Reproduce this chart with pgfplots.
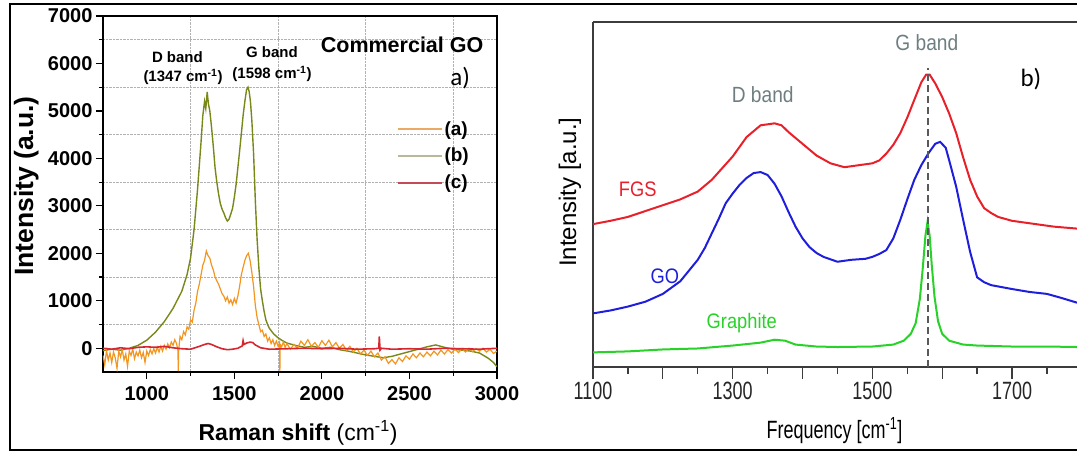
\documentclass[border=0pt]{standalone}
\usepackage{fontspec}
\setmainfont{Liberation Sans}
\newfontfamily\calfont{Carlito}
\newfontfamily\cond[FakeStretch=0.72]{Liberation Sans}
\newfontfamily\condb[FakeStretch=0.87]{Liberation Sans}
\usepackage{pgfplots}
\pgfplotsset{compat=1.18}
\definecolor{cA}{RGB}{242,150,32}
\definecolor{cB}{RGB}{122,136,26}
\definecolor{cC}{RGB}{214,38,48}
\definecolor{lA}{RGB}{234,170,100}
\definecolor{lB}{RGB}{186,184,154}
\definecolor{lC}{RGB}{196,74,90}
\definecolor{fgs}{RGB}{232,32,42}
\definecolor{go}{RGB}{30,30,220}
\definecolor{gr}{RGB}{40,210,40}
\definecolor{bandgray}{RGB}{110,126,128}
\definecolor{axgray}{RGB}{60,60,60}
\begin{document}
\begin{tikzpicture}[x=1pt,y=1pt]
\useasboundingbox (0,0) rectangle (1077,452);
\draw[line width=1.5pt] (1077,448) -- (10,448) -- (10,2) -- (1077,2);
% ---------------- left panel
\begin{axis}[
  at={(103pt,80pt)}, anchor=south west, scale only axis,
  width=394pt, height=356pt,
  xmin=750, xmax=3000, ymin=-500, ymax=7000,
  xtick={1000,1500,...,3000}, ytick={0,1000,...,7000},
  minor xtick={1250,1750,2250,2750}, minor ytick={500,1500,...,6500},
  grid=minor, minor grid style={densely dotted, black!30, line width=0.8pt},
  tick align=outside, major tick length=7pt, minor tick length=4pt,
  xtick pos=left, ytick pos=left,
  every tick/.style={black, line width=1.2pt},
  axis line style={line width=1.5pt},
  scaled ticks=false,
  /pgf/number format/1000 sep={},
  /pgf/number format/assume math mode=true,
  tick label style={font=\fontsize{20}{20}\selectfont\bfseries},
  xticklabel style={yshift=-4pt},
  xlabel={\textbf{Raman shift} (cm\textsuperscript{-1})},
  ylabel={\textbf{Intensity (a.u.)}},
  xlabel style={font=\fontsize{23}{23}\selectfont, at={(axis description cs:0.495,-0.171)}, anchor=center},
  ylabel style={font=\fontsize{26.5}{26.5}\selectfont, at={(axis description cs:-0.195,0.522)}, anchor=center, rotate=0},
  legend style={at={(axis description cs:0.745,0.71)}, anchor=north west, draw=none, fill=none,
     font=\fontsize{19}{19}\selectfont\bfseries, row sep=7.5pt, inner sep=0pt,
     nodes={inner sep=2pt}},
  legend cell align=left,
  legend image code/.code={\draw[#1, line width=1.8pt] (0pt,0pt) -- (44pt,0pt);},
]
\addlegendimage{lA}
\addlegendentry{(a)}
\addlegendimage{lB}
\addlegendentry{(b)}
\addlegendimage{lC}
\addlegendentry{(c)}
\addplot[cB, line width=1.4pt, forget plot] coordinates {
(750,-50)(800,-20)(850,-40)(900,0)(950,60)(1000,170)(1050,340)(1100,560)(1150,840)(1200,1200)
(1230,1550)(1250,1900)(1270,2500)(1290,3350)(1310,4350)(1320,4900)(1330,5200)(1337,5050)(1345,5400)
(1352,5150)(1360,5000)(1370,4650)(1380,4250)(1390,3800)(1400,3500)(1410,3250)(1420,3050)(1430,2930)
(1440,2850)(1450,2750)(1460,2680)(1470,2720)(1480,2830)(1490,2950)(1500,3180)(1510,3450)(1520,3800)
(1530,4150)(1540,4520)(1550,4900)(1560,5200)(1570,5450)(1578,5500)(1585,5400)(1592,5200)(1600,4800)
(1610,4100)(1620,3100)(1630,2300)(1640,1700)(1650,1250)(1660,1000)(1670,780)(1680,600)(1690,500)
(1700,420)(1725,300)(1750,220)(1775,160)(1800,110)(1850,60)(1900,20)(1950,40)(2000,0)(2050,20)
(2100,-30)(2150,-60)(2200,-100)(2250,-140)(2300,-170)(2350,-200)(2400,-170)(2450,-120)(2500,-70)
(2550,-20)(2600,30)(2650,70)(2700,20)(2750,-20)(2800,-40)(2850,-60)(2900,-100)(2950,-210)(2980,-300)(3000,-390)
};
\addplot[cA, line width=1.2pt, forget plot] coordinates {
(750,-150)(760,-350)(770,-50)(780,-250)(790,-100)(800,-300)(810,-80)(820,-200)(830,-420)(840,-60)
(850,-180)(860,-30)(870,-250)(880,-120)(890,-380)(900,-60)(910,-150)(920,-20)(930,-220)(940,-80)
(950,-160)(960,-40)(970,-200)(980,-90)(990,-300)(1000,-60)(1010,-150)(1020,-30)(1030,-120)(1040,-10)
(1050,-100)(1060,20)(1070,-80)(1080,40)(1090,-60)(1100,60)(1110,-20)(1120,90)(1130,10)(1140,130)
(1150,60)(1160,180)(1170,100)(1178,-50)(1180,-480)(1182,-50)(1190,250)(1200,180)(1210,350)(1220,280)
(1230,450)(1240,400)(1250,600)(1260,550)(1270,800)(1280,950)(1290,1200)(1300,1350)(1310,1550)
(1320,1750)(1330,1850)(1340,2050)(1350,1950)(1360,1900)(1370,1750)(1380,1650)(1390,1500)(1400,1420)
(1410,1350)(1420,1250)(1430,1150)(1440,1100)(1450,1000)(1460,1080)(1470,950)(1480,1020)(1490,920)
(1500,1050)(1510,950)(1520,1100)(1530,1300)(1540,1550)(1550,1700)(1560,1850)(1570,1950)(1580,2000)
(1590,1850)(1600,1600)(1610,1300)(1620,900)(1630,650)(1640,500)(1650,350)(1660,380)(1670,250)
(1680,300)(1690,150)(1700,220)(1710,100)(1720,180)(1730,60)(1740,150)(1750,40)(1758,120)(1760,-480)
(1762,80)(1770,30)(1780,130)(1790,20)(1800,100)(1820,-20)(1840,80)(1860,0)(1880,150)(1900,60)
(1920,180)(1940,40)(1960,120)(1980,20)(2000,160)(2020,60)(2040,170)(2060,30)(2080,120)(2100,0)
(2120,80)(2140,-40)(2160,40)(2180,-80)(2200,0)(2220,-120)(2240,-40)(2260,-150)(2280,-60)(2300,-180)
(2320,-100)(2340,-250)(2360,-180)(2380,-320)(2400,-240)(2420,-330)(2440,-200)(2460,-280)(2480,-160)
(2500,-230)(2520,-120)(2540,-200)(2560,-100)(2580,-180)(2600,-80)(2620,-160)(2640,-60)(2660,-140)
(2680,-40)(2700,-120)(2720,-30)(2740,-100)(2760,-20)(2780,-90)(2800,-10)(2820,-80)(2840,0)(2860,-70)
(2880,-10)(2900,-60)(2920,0)(2940,-80)(2960,-20)(2980,-110)(3000,-60)
};
\addplot[cC, line width=1.6pt, forget plot] coordinates {
(750,0)(800,-20)(850,10)(900,-10)(950,20)(1000,30)(1050,20)(1100,40)(1150,10)(1200,-10)(1250,-20)
(1300,40)(1330,80)(1350,100)(1370,80)(1400,30)(1430,-10)(1460,-30)(1490,-20)(1520,0)(1545,50)
(1550,160)(1555,80)(1570,110)(1590,130)(1605,120)(1620,70)(1650,10)(1700,-20)(1800,-10)(1900,0)
(2000,-10)(2100,0)(2200,-20)(2300,-10)(2325,0)(2328,250)(2332,-40)(2340,0)(2400,-20)(2500,-10)
(2600,-20)(2700,0)(2800,-10)(2900,-20)(3000,0)
};
\node[font=\fontsize{21.5}{21.5}\selectfont\bfseries] at (axis cs:2458,6390) {Commercial GO};
\node[font=\fontsize{25}{25}\selectfont\calfont] at (axis cs:2789,5695) {a)};
\node[font=\fontsize{15}{15}\selectfont\bfseries] at (axis cs:1175,6137) {D band};
\node[font=\fontsize{15}{15}\selectfont\bfseries] at (axis cs:1207,5716) {(1347 cm\textsuperscript{-1})};
\node[font=\fontsize{15}{15}\selectfont\bfseries] at (axis cs:1715,6242) {G band};
\node[font=\fontsize{15}{15}\selectfont\bfseries] at (axis cs:1715,5779) {(1598 cm\textsuperscript{-1})};
\end{axis}
% ---------------- right panel
\begin{axis}[
  at={(593pt,85pt)}, anchor=south west, scale only axis,
  width=484pt, height=345pt,
  xmin=1100, xmax=1793, ymin=0, ymax=354,
  axis x line*=box, axis y line*=left,
  xtick={1100,1200,...,1700}, xticklabels={1100,,1300,,1500,,1700},
  minor xtick={1150,1250,...,1750}, ytick=\empty,
  xtick pos=bottom,
  tick align=outside, major tick length=12pt, minor tick length=7pt,
  every tick/.style={axgray, line width=1.3pt},
  axis line style={axgray, line width=1.5pt},
  scaled ticks=false,
  /pgf/number format/1000 sep={},
  /pgf/number format/assume math mode=true,
  tick label style={font=\fontsize{25}{25}\selectfont\cond, text=black!85},
  xlabel={Frequency [cm\textsuperscript{-1}]},
  ylabel={Intensity [a.u.]},
  xlabel style={font=\fontsize{25}{25}\selectfont\cond, at={(axis description cs:0.499,-0.183)}, anchor=center},
  ylabel style={font=\fontsize{24}{24}\selectfont, at={(axis description cs:-0.0475,0.507)}, anchor=center, rotate=0},
]
\addplot[fgs, line width=2pt] coordinates {
(1100,146.6)(1125,150)(1150,154)(1175,160)(1200,166)(1225,172)(1250,180)(1270,192)(1285,204)(1300,216)
(1320,236)(1340,248)(1360,250)(1370,248)(1380,241)(1400,229)(1420,217)(1440,209)(1460,205)(1480,207)
(1500,209)(1510,212)(1520,219)(1530,228)(1540,240)(1550,256)(1560,274)(1570,292)(1577,300)(1582,300)
(1590,291)(1600,277)(1610,260)(1620,240)(1630,215)(1640,192)(1650,175)(1660,163)(1670,158)(1680,154)
(1700,150)(1720,148)(1740,146)(1760,144)(1793,142)
};
\addplot[go, line width=2pt] coordinates {
(1100,55)(1125,58)(1150,62)(1175,67)(1200,75)(1225,88)(1250,110)(1260,122)(1270,137)(1280,152)
(1290,168)(1300,178)(1310,187)(1320,194)(1330,199)(1340,200)(1350,197)(1360,188)(1370,175)(1380,159)
(1390,144)(1400,132)(1410,123)(1420,117)(1430,113)(1450,108)(1470,110)(1490,111)(1500,113)(1510,116)
(1520,120)(1530,132)(1540,151)(1550,172)(1560,192)(1570,207)(1580,219)(1590,229)(1597,231)(1605,225)
(1610,212)(1620,185)(1630,151)(1640,118)(1650,92)(1660,87)(1670,84)(1685,82)(1700,80)(1725,77)
(1750,75)(1770,71)(1793,66)
};
\addplot[gr, line width=2pt] coordinates {
(1100,15)(1150,16)(1200,18)(1250,19)(1300,22)(1340,25)(1360,28)(1375,27)(1390,23)(1420,21)(1450,20.5)
(1500,21)(1530,23)(1545,27)(1555,34)(1562,45)(1568,70)(1572,100)(1576,135)(1579,149)(1582,135)
(1585,105)(1589,72)(1594,47)(1600,34)(1610,27)(1630,23)(1650,22)(1700,21)(1750,21)(1793,20.5)
};
\addplot[axgray!85, line width=1.5pt, dash pattern=on 7pt off 4pt] coordinates {(1580,0)(1580,307)};
\node[font=\fontsize{22}{22}\selectfont\condb, text=bandgray] at (axis cs:1578,332.5) {G band};
\node[font=\fontsize{22}{22}\selectfont\condb, text=bandgray] at (axis cs:1343,279) {D band};
\node[font=\fontsize{25}{25}\selectfont\calfont] at (axis cs:1727,295) {b)};
\node[font=\fontsize{21}{21}\selectfont\condb, text=fgs] at (axis cs:1164,182) {FGS};
\node[font=\fontsize{21}{21}\selectfont\condb, text=go] at (axis cs:1203,93) {GO};
\node[font=\fontsize{21}{21}\selectfont\condb, text=gr] at (axis cs:1313,45) {Graphite};
\end{axis}
\end{tikzpicture}
\end{document}
